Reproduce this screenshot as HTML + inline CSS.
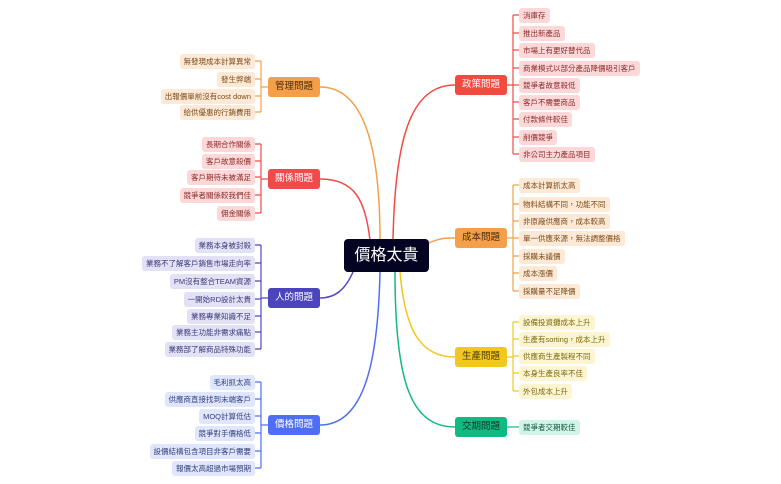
<!DOCTYPE html>
<html><head><meta charset="utf-8"><style>
body{margin:0;width:781px;height:484px;background:#fff;position:relative;overflow:hidden;font-family:"Liberation Sans","Noto Sans CJK TC",sans-serif;}
svg{position:absolute;left:0;top:0}
.n{position:absolute;width:52px;height:20px;line-height:20px;border-radius:3px;text-align:center;font-size:9.5px;color:#fff}
.l{position:absolute;height:15px;line-height:15px;margin-top:-0.5px;border-radius:3px;padding:0 4px;font-size:7.5px;white-space:nowrap}
.root{position:absolute;left:344px;top:239px;width:85px;height:33px;background:#050322;border-radius:4px;color:#fff;font-size:16px;line-height:33px;text-align:center}
</style></head><body>
<svg width="781" height="484" fill="none" stroke-width="1.5">
<path d="M380,240 C380,150 365,87 320,87" stroke="#f4a04a"/>
<path d="M370,240 C365,200 355,179 320,179" stroke="#f04a4a"/>
<path d="M353,272 C345,290 335,298 320,298" stroke="#5046c8"/>
<path d="M380,272 C378,360 365,425 320,425" stroke="#4f6ef7"/>
<path d="M393,240 C395,140 410,85 455,85" stroke="#f24a40"/>
<path d="M429,243 C440,238 445,238 455,238" stroke="#f4a04a"/>
<path d="M400,272 C405,330 420,357 455,357" stroke="#f2c81e"/>
<path d="M395,272 C395,380 410,427 455,427" stroke="#12b981"/>
<g stroke-width="1.2">
<path d="M268,87H261M261,61V112M255,61H261M255,79H261M255,96H261M255,112H261" stroke="#f4a04a"/>
<path d="M268,179H261M261,144V213M255,144H261M255,161H261M255,177H261M255,195H261M255,213H261" stroke="#f04a4a"/>
<path d="M268,298H261M261,245V349M255,245H261M255,263H261M255,281H261M255,299H261M255,316H261M255,332H261M255,349H261" stroke="#5046c8"/>
<path d="M268,425H261M261,382V468M255,382H261M255,399H261M255,416H261M255,433H261M255,451H261M255,468H261" stroke="#4f6ef7"/>
<path d="M506,85H513M513,15V154M513,15H519M513,33H519M513,50H519M513,68H519M513,85H519M513,102H519M513,119H519M513,137H519M513,154H519" stroke="#f24a40"/>
<path d="M506,238H513M513,185V291M513,185H519M513,204H519M513,221H519M513,238H519M513,256H519M513,273H519M513,291H519" stroke="#f4a04a"/>
<path d="M506,357H513M513,322V391M513,322H519M513,339H519M513,356H519M513,373H519M513,391H519" stroke="#f2c81e"/>
<path d="M506,427H519" stroke="#12b981"/>
</g></svg>
<div class="root">價格太貴</div>
<div class="n" style="left:268px;top:77px;background:#f4a04a;color:#4a2a08">管理問題</div>
<div class="n" style="left:268px;top:169px;background:#f04a4a">關係問題</div>
<div class="n" style="left:268px;top:288px;background:#4b44bd">人的問題</div>
<div class="n" style="left:268px;top:415px;background:#4f6ef7">價格問題</div>
<div class="n" style="left:455px;top:75px;background:#f24a40">政策問題</div>
<div class="n" style="left:455px;top:228px;background:#f4a04a;color:#4a2a08">成本問題</div>
<div class="n" style="left:455px;top:347px;background:#f2c81e;color:#4a3a08">生產問題</div>
<div class="n" style="left:455px;top:417px;background:#12b981;color:#053a28">交期問題</div>
<div style="position:absolute;right:526px;top:0">
<div class="l" style="right:0;top:54px;background:#fde9d6;color:#7a4a1a">無發現成本計算異常</div>
<div class="l" style="right:0;top:72px;background:#fde9d6;color:#7a4a1a">發生弊端</div>
<div class="l" style="right:0;top:89px;background:#fde9d6;color:#7a4a1a">出報價單前沒有cost down</div>
<div class="l" style="right:0;top:105px;background:#fde9d6;color:#7a4a1a">給供優惠的行銷費用</div>
<div class="l" style="right:0;top:137px;background:#fdd8d8;color:#8a2a2a">長期合作關係</div>
<div class="l" style="right:0;top:154px;background:#fdd8d8;color:#8a2a2a">客戶故意殺價</div>
<div class="l" style="right:0;top:170px;background:#fdd8d8;color:#8a2a2a">客戶期待未被滿足</div>
<div class="l" style="right:0;top:188px;background:#fdd8d8;color:#8a2a2a">競爭者關係較我們佳</div>
<div class="l" style="right:0;top:206px;background:#fdd8d8;color:#8a2a2a">佣金關係</div>
<div class="l" style="right:0;top:238px;background:#e2e1f5;color:#3c3a7a">業務本身被封殺</div>
<div class="l" style="right:0;top:256px;background:#e2e1f5;color:#3c3a7a">業務不了解客戶銷售市場走向率</div>
<div class="l" style="right:0;top:274px;background:#e2e1f5;color:#3c3a7a">PM沒有整合TEAM資源</div>
<div class="l" style="right:0;top:292px;background:#e2e1f5;color:#3c3a7a">一開始RD設計太貴</div>
<div class="l" style="right:0;top:309px;background:#e2e1f5;color:#3c3a7a">業務專業知識不足</div>
<div class="l" style="right:0;top:325px;background:#e2e1f5;color:#3c3a7a">業務主功能非需求痛點</div>
<div class="l" style="right:0;top:342px;background:#e2e1f5;color:#3c3a7a">業務部了解商品特殊功能</div>
<div class="l" style="right:0;top:375px;background:#e0e6fd;color:#33407a">毛利抓太高</div>
<div class="l" style="right:0;top:392px;background:#e0e6fd;color:#33407a">供應商直接找到末端客戶</div>
<div class="l" style="right:0;top:409px;background:#e0e6fd;color:#33407a">MOQ計算低估</div>
<div class="l" style="right:0;top:426px;background:#e0e6fd;color:#33407a">競爭對手價格低</div>
<div class="l" style="right:0;top:444px;background:#e0e6fd;color:#33407a">設價結構包含項目非客戶需要</div>
<div class="l" style="right:0;top:461px;background:#e0e6fd;color:#33407a">報價太高超過市場預期</div>
</div>
<div style="position:absolute;left:519px;top:0">
<div class="l" style="top:8px;background:#fdd8d8;color:#8a2a2a">消庫存</div>
<div class="l" style="top:26px;background:#fdd8d8;color:#8a2a2a">推出新產品</div>
<div class="l" style="top:43px;background:#fdd8d8;color:#8a2a2a">市場上有更好替代品</div>
<div class="l" style="top:61px;background:#fdd8d8;color:#8a2a2a">商業模式以部分產品降價吸引客戶</div>
<div class="l" style="top:78px;background:#fdd8d8;color:#8a2a2a">競爭者故意殺低</div>
<div class="l" style="top:95px;background:#fdd8d8;color:#8a2a2a">客戶不需要商品</div>
<div class="l" style="top:112px;background:#fdd8d8;color:#8a2a2a">付款條件較佳</div>
<div class="l" style="top:130px;background:#fdd8d8;color:#8a2a2a">削價競爭</div>
<div class="l" style="top:147px;background:#fdd8d8;color:#8a2a2a">非公司主力產品項目</div>
<div class="l" style="top:178px;background:#fde9d6;color:#7a4a1a">成本計算抓太高</div>
<div class="l" style="top:197px;background:#fde9d6;color:#7a4a1a">物料結構不同，功能不同</div>
<div class="l" style="top:214px;background:#fde9d6;color:#7a4a1a">非原廠供應商，成本較高</div>
<div class="l" style="top:231px;background:#fde9d6;color:#7a4a1a">單一供應來源，無法調整價格</div>
<div class="l" style="top:249px;background:#fde9d6;color:#7a4a1a">採購未議價</div>
<div class="l" style="top:266px;background:#fde9d6;color:#7a4a1a">成本漲價</div>
<div class="l" style="top:284px;background:#fde9d6;color:#7a4a1a">採購量不足降價</div>
<div class="l" style="top:315px;background:#fdf5d2;color:#7a6a10">設備投資攤成本上升</div>
<div class="l" style="top:332px;background:#fdf5d2;color:#7a6a10">生產有sorting，成本上升</div>
<div class="l" style="top:349px;background:#fdf5d2;color:#7a6a10">供應商生產製程不同</div>
<div class="l" style="top:366px;background:#fdf5d2;color:#7a6a10">本身生產良率不佳</div>
<div class="l" style="top:384px;background:#fdf5d2;color:#7a6a10">外包成本上升</div>
<div class="l" style="top:420px;background:#d2f3e6;color:#0a5a40">競爭者交期較佳</div>
</div>
</body></html>
